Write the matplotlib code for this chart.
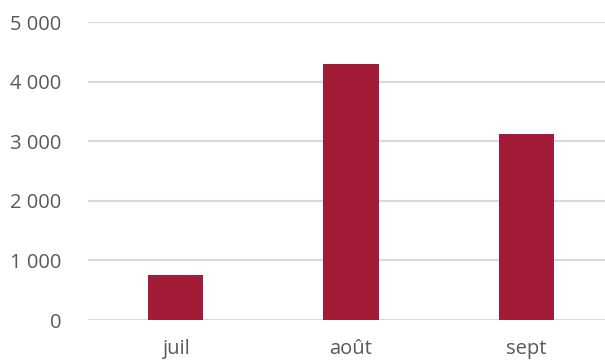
import matplotlib
matplotlib.use("Agg")
import matplotlib.pyplot as plt

# data
months = ['juil', 'août', 'sept']
values = [755, 4295, 3120]
yticks = [0, 1000, 2000, 3000, 4000, 5000]
ytick_labels = ['0', '1 000', '2 000', '3 000', '4 000', '5 000']

plt.rcParams['font.family'] = ['Open Sans', 'DejaVu Sans']

fig = plt.figure(figsize=(6.05, 3.6), dpi=100)
ax = fig.add_axes([88 / 605, 40 / 360, 526 / 605, 298 / 360])

x = list(range(len(months)))
ax.bar(x, values, width=0.314, color='#A31C37', zorder=3)

ax.set_xlim(-0.5, 2.5)
ax.set_ylim(0, 5000)
ax.set_yticks(yticks)
ax.set_yticklabels(ytick_labels)
ax.set_xticks(x)
ax.set_xticklabels(months)

ax.grid(axis='y', color='#D9D9D9', linewidth=1.5, zorder=0)
for s in ax.spines.values():
    s.set_visible(False)
ax.tick_params(axis='both', length=0, labelsize=14.5, colors='#595959')
ax.tick_params(axis='y', pad=19)
ax.tick_params(axis='x', pad=14)

fig.savefig('out.png', dpi=100)
